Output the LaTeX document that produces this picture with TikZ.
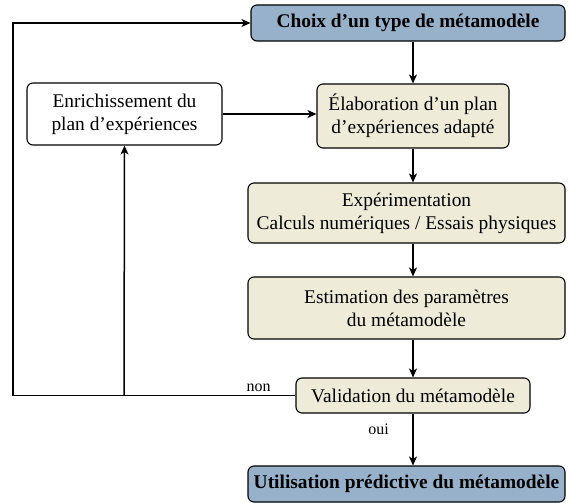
\documentclass[tikz,border=0pt]{standalone}
\usepackage{fontspec}
\setmainfont{Liberation Serif}
\usetikzlibrary{arrows.meta}
\usetikzlibrary{positioning}
\definecolor{bleu}{RGB}{151,177,203}
\definecolor{beige}{RGB}{238,236,217}
\tikzset{
    box/.style={draw,rounded corners=6bp,line width=1.1bp,align=center,
    inner sep=2bp,font=\rmfamily\fontsize{19.4bp}{23bp}\selectfont
    },
    bluebox/.style={box,fill=bleu,font=\rmfamily\fontsize{19.4bp}{23bp}\selectfont\bfseries},
    tanbox/.style={box,fill=beige},
    edge/.style={line width=1.5bp},
    dedge/.style = {-{Stealth[length=9bp,width=8bp,inset=2.5bp]},line width=1.5bp},
    lab/.style={font=\rmfamily\fontsize{16bp}{19bp}\selectfont}
}

\begin{document}
\begin{tikzpicture}[x=1bp,y=-1bp]
\useasboundingbox (0,0) rectangle (570,503);

\node[bluebox,minimum width=314bp,minimum height=36bp] (1) at (408,23) {Choix d’un type de métamodèle};
\node[tanbox,minimum width=192bp,minimum height=64bp] (2) at (413,116) {Élaboration d’un plan\\d’expériences adapté};
\node[tanbox,minimum width=317bp,minimum height=60bp] (3) at (406.5,213) {Expérimentation\\Calculs numériques / Essais physiques};
\node[tanbox,minimum width=317bp,minimum height=62bp] (4) at (406.5,308) {Estimation des paramètres\\du métamodèle};
\node[tanbox,minimum width=234bp,minimum height=35bp] (5) at (413,395.5) {Validation du métamodèle};
\node[bluebox,minimum width=317bp,minimum height=36bp] (6) at (406.5,484) {Utilisation prédictive du métamodèle};
\node[box,fill=white,minimum width=195bp,minimum height=62bp] (7) at (124.5,114) {Enrichissement du\\plan d’expériences};

\coordinate (51) at (13,395.5);
\coordinate (52) at (124,395.5);

\draw[dedge]  (1.south -| 2.north) --  (2.north);
\draw[dedge]  (2.south) --  (3.north -| 2.south);
\draw[dedge]  (3.south -| 2.south) --  (4.north -| 2.south);
\draw[dedge]  (4.south -| 5.north) --  (5.north);
\draw[dedge]  (5.south) --  (6.north -| 5.south) node[lab, pos=0.3, left=20bp] {oui};
\draw[dedge]  (5.west) --  (52) node[lab, pos=0.215, above] {non} -- (51) |- (1.west);
\draw[dedge]  (52) --  (7.south);
\draw[dedge]  (7.east) --  (7.east -| 2.west);
\end{tikzpicture}
\end{document}
